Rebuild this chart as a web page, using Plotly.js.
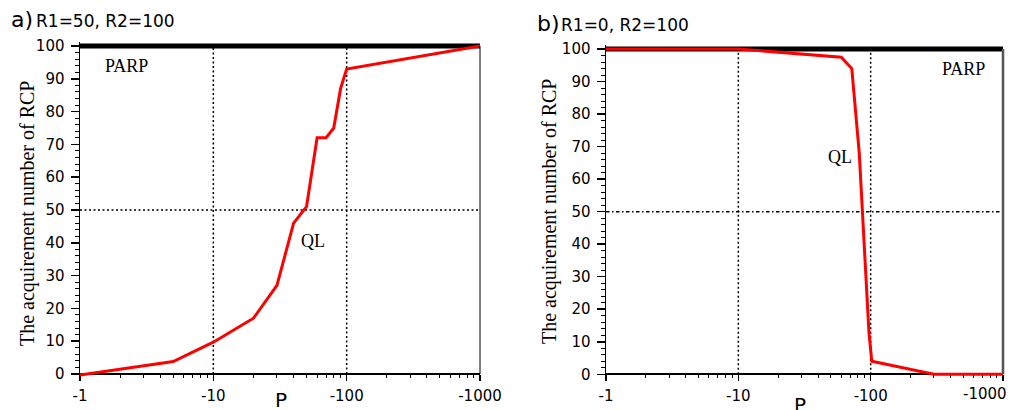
<!DOCTYPE html>
<html><head><meta charset="utf-8">
<script src="https://cdn.plot.ly/plotly-3.0.1.min.js"></script>
<style>html,body{margin:0;padding:0;background:#fff}</style>
</head><body><div id="chart" style="width:1013px;height:410px"></div>
<script>
// ---- data ----
const pTickVals = [1, 10, 100, 1000];
const pTickText = ['-1', '-10', '-100', '-1000'];
const pMinorVals = [2,3,4,5,6,7,8,9,20,30,40,50,60,70,80,90,200,300,400,500,600,700,800,900];
const nTickVals = [0,10,20,30,40,50,60,70,80,90,100];
const nMinorVals = [2,4,6,8,12,14,16,18,22,24,26,28,32,34,36,38,42,44,46,48,52,54,56,58,62,64,66,68,72,74,76,78,82,84,86,88,92,94,96,98];

const parpP = [1, 1000];
const parpN = [100, 100];

const qlA_P = [1, 5, 10, 20, 30, 40, 50, 60, 70, 80, 90, 100, 1000];
const qlA_N = [-0.3, 3.8, 9.7, 17, 27, 46, 51, 72, 72, 75, 87, 93, 100];

const qlB_P = [1, 10, 60, 72, 82, 93, 97, 102, 300, 1000];
const qlB_N = [100, 100, 97.5, 94, 68, 28, 13, 4, 0, 0];

const refVP = [10, 100];   // dotted vertical reference lines
const refN = 50;           // dotted horizontal reference line

// ---- helpers ----
const W = 1013, H = 410;
const px = x => x / W, py = y => (H - y) / H;

function refTraces(xa, ya, hdash) {
  const t = [];
  refVP.forEach(v => t.push({x:[v,v], y:[0,100], xaxis:xa, yaxis:ya, mode:'lines',
    line:{color:'#000', width:1.5, dash:'2px,2.5px'}, hoverinfo:'skip'}));
  t.push({x:[pTickVals[0], pTickVals[3]], y:[refN, refN], xaxis:xa, yaxis:ya, mode:'lines',
    line:{color:'#000', width:1.5, dash:hdash}, hoverinfo:'skip'});
  return t;
}

const traces = [
  ...refTraces('x', 'y', '2px,2.5px'),
  ...refTraces('x2', 'y2', '3.5px,2.5px,1.5px,2.5px'),
  {x:parpP, y:parpN, xaxis:'x', yaxis:'y', mode:'lines', line:{color:'#000', width:5}},
  {x:parpP, y:parpN, xaxis:'x2', yaxis:'y2', mode:'lines', line:{color:'#000', width:5}},
  {x:qlA_P, y:qlA_N, xaxis:'x', yaxis:'y', mode:'lines', line:{color:'#ff0000', width:3}},
  {x:qlB_P, y:qlB_N, xaxis:'x2', yaxis:'y2', mode:'lines', line:{color:'#ff0000', width:3}}
];

const tickFont = {family:'DejaVu Sans, Arial, sans-serif', size:15, color:'#000'};

function xAxis(domain, pos, ticktext) {
  return {type:'log', domain:domain, range:[0,3], tickmode:'array', tickvals:pTickVals, ticktext:ticktext,
    ticks:'outside', ticklen:6, tickwidth:1.5, tickcolor:'#000', showline:true, linewidth:2, linecolor:'#000',
    showgrid:false, zeroline:false, anchor:'free', position:pos, layer:'below traces', tickfont:tickFont,
    ticklabeloverflow:'allow', ticklabelstandoff:2,
    minor:{tickmode:'array', tickvals:pMinorVals, ticks:'outside', ticklen:3, tickwidth:1, tickcolor:'#000', showgrid:false}};
}
function yAxis(domain, anchor) {
  return {domain:domain, range:[-1.2, 101.2], tickmode:'array', tickvals:nTickVals,
    ticks:'outside', ticklen:8, tickwidth:1.5, tickcolor:'#000', showline:true, linewidth:1.5, linecolor:'#000',
    showgrid:false, zeroline:false, anchor:anchor, tickfont:tickFont, ticklabelstandoff:3, ticklabeloverflow:'allow',
    minor:{tickmode:'array', tickvals:nMinorVals, ticks:'outside', ticklen:4, tickwidth:1, tickcolor:'#000', showgrid:false}};
}

const serif = 'Liberation Serif, Times New Roman, serif';
const sans = 'DejaVu Sans, Arial, sans-serif';
function ann(text, x, y, size, family, xanchor, extra) {
  return Object.assign({text:text, x:px(x), y:py(y), xref:'paper', yref:'paper', showarrow:false,
    xanchor:xanchor || 'center', yanchor:'middle', font:{family:family, size:size, color:'#000'}}, extra || {});
}

// panel b: last tick label is shifted left so it stays inside the picture
const pTickTextB = pTickText.slice(0, 3).concat(['']);

const layout = {
  width:W, height:H, margin:{l:0, r:0, t:0, b:0}, showlegend:false,
  paper_bgcolor:'#fff', plot_bgcolor:'#fff',
  xaxis: xAxis([px(80), px(480)], py(374), pTickText),
  yaxis: yAxis([py(377.94), py(42.06)], 'x'),
  xaxis2: xAxis([px(606), px(1003)], py(374.3), pTickTextB),
  yaxis2: yAxis([py(378.2), py(45.1)], 'x2'),
  shapes: [
    {type:'line', xref:'x domain', yref:'y', x0:1, x1:1, y0:0, y1:100, line:{color:'#000', width:1}},
    {type:'line', xref:'x2 domain', yref:'y2', x0:1, x1:1, y0:0, y1:100, line:{color:'#555', width:2.5}}
  ],
  annotations: [
    ann('a)', 9, 19, 22, sans, 'left'),
    ann('R1=50, R2=100', 34, 21, 17, sans, 'left'),
    ann('b)', 535, 23, 22, sans, 'left'),
    ann('R1=0, R2=100', 559, 25, 17, sans, 'left'),
    ann('PARP', 103, 66, 18, serif, 'left'),
    ann('QL', 313, 241, 18, serif),
    ann('PARP', 963, 68.5, 18, serif),
    ann('QL', 839.5, 156.5, 18, serif),
    ann('The acquirement number of RCP', 27, 213, 20, serif, 'center', {textangle:-90}),
    ann('The acquirement number of RCP', 549, 211, 20, serif, 'center', {textangle:-90}),
    ann(pTickText[3], 1009, 394, 15, sans, 'right'),
    ann('P', 281, 400, 20, sans),
    ann('P', 800, 405, 20, sans)
  ]
};

Plotly.newPlot('chart', traces, layout, {staticPlot:true, displayModeBar:false});
</script></body></html>
